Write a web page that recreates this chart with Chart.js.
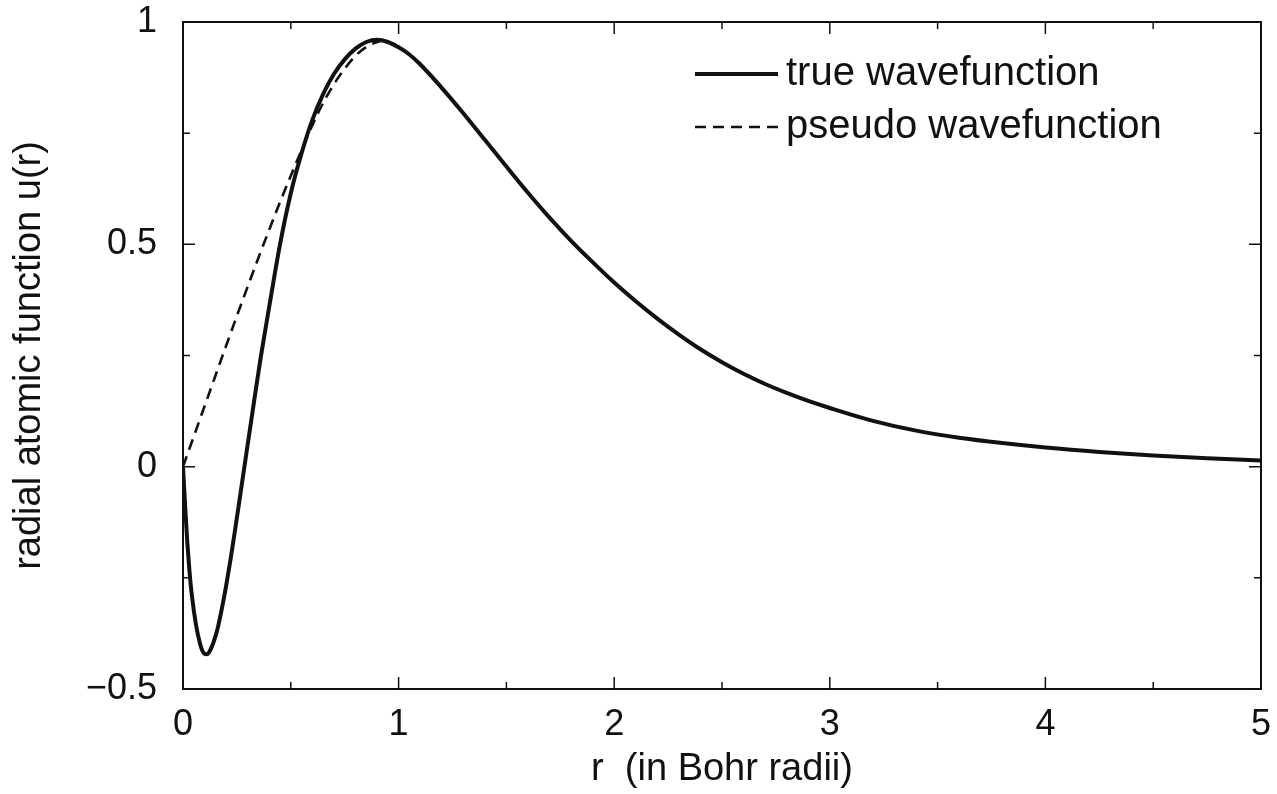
<!DOCTYPE html>
<html><head><meta charset="utf-8">
<script src="https://cdn.jsdelivr.net/npm/chart.js@4.4.1/dist/chart.umd.min.js"></script>
<style>html,body{margin:0;padding:0;background:#fff}#wrap{width:1277px;height:794px}</style>
</head><body><div id="wrap"><canvas id="c" width="1277" height="794"></canvas></div>
<script>
// r values (Bohr radii) and u(r) for the true wavefunction
const rTrue = [0,0.01,0.02,0.03,0.04,0.06,0.08,0.09,0.10,0.11,0.12,0.14,0.16,0.18,0.20,0.22,0.24,0.26,0.28,0.30,0.33,0.36,0.40,0.45,0.50,0.55,0.60,0.65,0.70,0.75,0.80,0.85,0.90,0.95,1.00,1.05,1.10,1.20,1.30,1.40,1.50,1.60,1.70,1.80,1.90,2.00,2.10,2.20,2.30,2.40,2.50,2.60,2.70,2.80,2.90,3.00,3.20,3.40,3.60,3.80,4.00,4.25,4.50,4.75,5.00];
const uTrue = [0,-0.09,-0.17,-0.235,-0.285,-0.355,-0.40,-0.414,-0.421,-0.422,-0.418,-0.397,-0.365,-0.32,-0.268,-0.21,-0.147,-0.082,-0.016,0.05,0.148,0.244,0.36,0.50,0.615,0.705,0.78,0.838,0.883,0.916,0.94,0.955,0.96,0.955,0.943,0.927,0.905,0.852,0.795,0.735,0.675,0.616,0.56,0.508,0.46,0.414,0.372,0.333,0.297,0.264,0.235,0.209,0.186,0.166,0.148,0.132,0.103,0.081,0.065,0.053,0.043,0.033,0.025,0.019,0.014];
// pseudo wavefunction (visible part, r < r_c)
const rPseudo = [0,0.05,0.10,0.15,0.20,0.25,0.30,0.35,0.40,0.45,0.50,0.55,0.60,0.65,0.70,0.75,0.80,0.85,0.90,0.95];
const uPseudo = [0,0.068,0.136,0.204,0.272,0.339,0.405,0.47,0.533,0.595,0.654,0.712,0.768,0.818,0.86,0.895,0.924,0.944,0.955,0.96];
// axis ticks
const xTicks = [0,1,2,3,4,5];
const xMinor = [0.5,1.5,2.5,3.5,4.5];
const yTicks = [-0.5,0,0.5,1];
const yMinor = [-0.25,0.25,0.75];
const seriesLabels = ['true wavefunction','pseudo wavefunction'];

const FONT = "'Liberation Sans', Arial, Helvetica, sans-serif";
const INK = '#111';

const toXY = (xs, ys) => xs.map((x,i)=>({x, y: ys[i]}));
const noPad = s => { s.paddingTop = 0; s.paddingBottom = 0; s.paddingLeft = 0; s.paddingRight = 0; };

const frame = {
  id: 'frame',
  beforeDatasetsDraw(chart){
    const {ctx, chartArea:a, scales:{x,y}} = chart;
    ctx.save();
    ctx.strokeStyle = INK; ctx.lineWidth = 2;
    ctx.strokeRect(a.left, a.top, a.right-a.left, a.bottom-a.top);
    ctx.lineWidth = 1.5;
    const tick = (vals, len) => {
      vals.forEach(v=>{
        const px = x.getPixelForValue(v);
        ctx.beginPath();
        ctx.moveTo(px, a.bottom); ctx.lineTo(px, a.bottom-len);
        ctx.moveTo(px, a.top); ctx.lineTo(px, a.top+len);
        ctx.stroke();
      });
    };
    const ytick = (vals, len) => {
      vals.forEach(v=>{
        const py = y.getPixelForValue(v);
        ctx.beginPath();
        ctx.moveTo(a.left, py); ctx.lineTo(a.left+len, py);
        ctx.moveTo(a.right, py); ctx.lineTo(a.right-len, py);
        ctx.stroke();
      });
    };
    tick(xTicks, 12); tick(xMinor, 7);
    ytick(yTicks, 12); ytick(yMinor, 7);
    ctx.restore();
  },
  afterDraw(chart){
    const {ctx} = chart;
    const ds = chart.data.datasets;
    ctx.save();
    ctx.font = "40px " + FONT;
    ctx.fillStyle = INK;
    ctx.textBaseline = 'middle';
    const rows = [74, 127];
    ds.forEach((d,i)=>{
      ctx.strokeStyle = INK;
      ctx.lineWidth = d.borderWidth;
      ctx.setLineDash(d.borderDash || []);
      ctx.beginPath();
      ctx.moveTo(695, rows[i]); ctx.lineTo(778, rows[i]);
      ctx.stroke();
      ctx.setLineDash([]);
      ctx.fillText(d.label, 786, rows[i]);
    });
    ctx.restore();
  }
};

new Chart(document.getElementById('c'), {
  type: 'line',
  data: {
    datasets: [
      { label: seriesLabels[0], data: toXY(rTrue, uTrue), borderColor: INK, borderWidth: 4,
        pointRadius: 0, cubicInterpolationMode: 'monotone', fill: false, order: 0 },
      { label: seriesLabels[1], data: toXY(rPseudo, uPseudo), borderColor: INK, borderWidth: 2.6,
        borderDash: [11,7], pointRadius: 0, cubicInterpolationMode: 'monotone', fill: false, order: 1 }
    ]
  },
  options: {
    responsive: false, devicePixelRatio: 1, animation: false,
    layout: { padding: { top: 22, right: 16, left: 0, bottom: 0 } },
    plugins: { legend: { display: false }, tooltip: { enabled: false } },
    scales: {
      x: {
        type: 'linear', min: 0, max: 5,
        afterBuildTicks: s => { s.ticks = xTicks.map(v=>({value:v})); },
        afterFit: s => { s.height = 105; noPad(s); },
        grid: { display: false, drawTicks: false }, border: { display: false },
        ticks: { color: INK, font: { family: FONT, size: 36 }, padding: 14, maxRotation: 0,
                 callback: v => String(v) },
        title: { display: true, text: 'r  (in Bohr radii)', color: INK,
                 font: { family: FONT, size: 38 }, padding: { top: 0, bottom: 2 } }
      },
      y: {
        type: 'linear', min: -0.5, max: 1,
        afterBuildTicks: s => { s.ticks = yTicks.map(v=>({value:v})); },
        afterFit: s => { s.width = 183; noPad(s); },
        grid: { display: false, drawTicks: false }, border: { display: false },
        ticks: { color: INK, font: { family: FONT, size: 36 }, padding: 26,
                 callback: v => v < 0 ? '\u2212' + String(-v) : String(v) },
        title: { display: true, text: 'radial atomic function u(r)', color: INK,
                 font: { family: FONT, size: 38 }, padding: { top: 7, bottom: 0 } }
      }
    }
  },
  plugins: [frame]
});
</script></body></html>
